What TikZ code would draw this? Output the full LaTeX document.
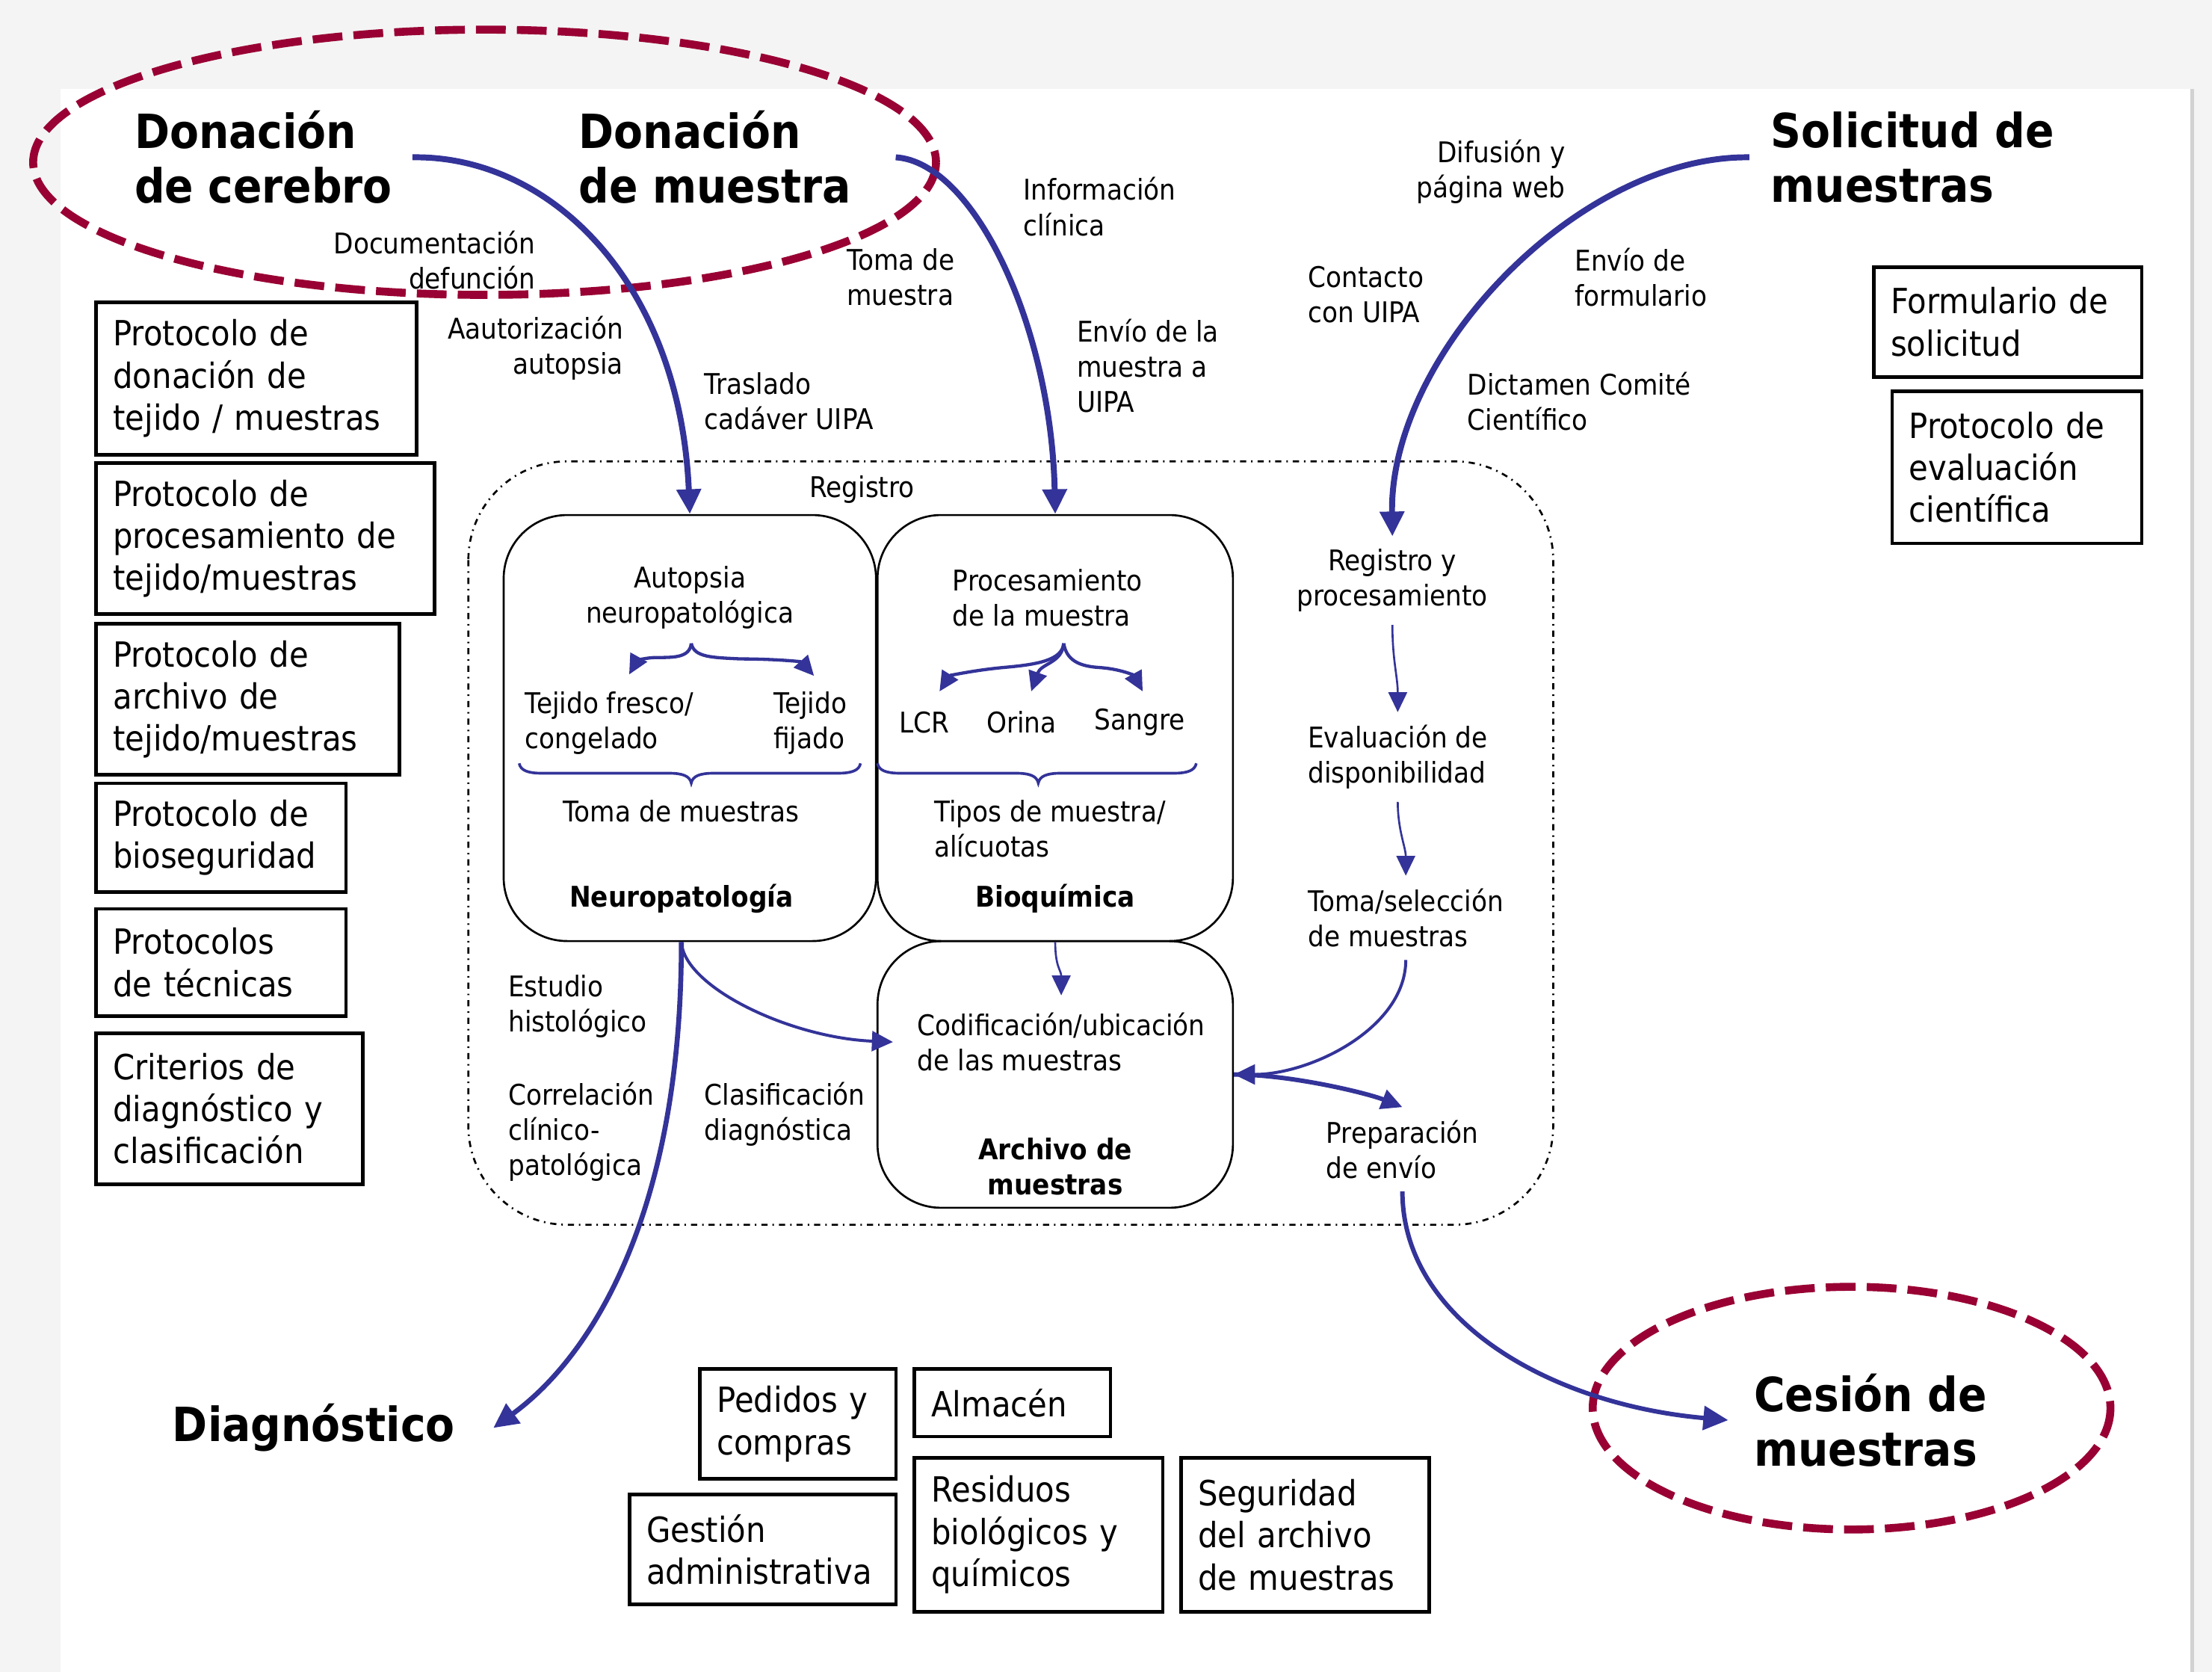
\documentclass[tikz,border=0pt]{standalone}
\usepackage{fontspec}
\setmainfont{DejaVu Sans}[FakeStretch=0.9]
\usetikzlibrary{arrows.meta,backgrounds}

\definecolor{flowblue}{HTML}{333399}
\definecolor{ringred}{HTML}{990033}

\tikzset{
  lbl/.style={inner sep=0pt, align=left, font=\fontsize{11.5}{14.2}\selectfont},
  rlbl/.style={inner sep=0pt, align=right, font=\fontsize{11.5}{14.2}\selectfont},
  clbl/.style={inner sep=0pt, align=center, font=\fontsize{11.5}{14.2}\selectfont},
  boldlbl/.style={inner sep=0pt, align=center, font=\fontsize{11.5}{14.2}\selectfont\bfseries},
  bigtitle/.style={inner sep=0pt, align=left, font=\fontsize{19}{22.1}\selectfont\bfseries},
  stepnode/.style={lbl, inner sep=5pt},
  protbox/.style={draw, line width=1.4pt, anchor=north west, align=left, inner xsep=0.24cm, inner ysep=0pt, font=\fontsize{14}{17}\selectfont},
  unitbox/.style={draw, line width=0.8pt, rounded corners=0.9cm},
  bigflow/.style={flowblue, line width=2.4pt, -{Triangle[length=10pt,width=9.5pt]}},
  flow/.style={flowblue, line width=1.2pt, -{Triangle[length=8.5pt,width=8pt]}},
  thinflow/.style={flowblue, line width=0.8pt, -{Triangle[length=8pt,width=7.5pt]}},
  brarrow/.style={flowblue, line width=1.3pt, -{Triangle[length=8pt,width=7.5pt]}},
  bracket/.style={flowblue, line width=1.1pt},
  ring/.style={ringred, line width=3.2pt, dash pattern=on 12pt off 4.5pt},
}

\begin{document}
\begin{tikzpicture}[x=0.02cm, y=-0.02cm]
\useasboundingbox (0,0) rectangle (1568,1185);
\fill[gray!9] (0,0) rectangle (1568,1185);
\fill[white] (43,63) rectangle (1553,1185);
\draw[gray!35, line width=1.5pt] (1554,63) -- (1554,1185);

% donation and delivery rings
\draw[ring] (343.5,115) ellipse [x radius=320, y radius=94];
\draw[ring] (1312.5,998) ellipse [x radius=183.5, y radius=86];

% unit frame and working units
\draw[line width=0.8pt, dash pattern=on 2.5pt off 2pt on 0.6pt off 2pt, rounded corners=1.4cm] (332,327) rectangle (1101,868);
\node[unitbox, minimum width=5.28cm, minimum height=6.04cm] (neuro) at (489,516) {};
\node[unitbox, minimum width=5.04cm, minimum height=6.04cm] (bioq) at (748,516) {};
\node[unitbox, minimum width=5.04cm, minimum height=3.78cm] (archivo) at (748,761.5) {};

% titles
\node[bigtitle, anchor=west] (cerebro) at (95,111.5) {Donación\\de cerebro};
\node[bigtitle, anchor=west] (donmuestra) at (410,111.5) {Donación\\de muestra};
\node[bigtitle, anchor=west] (solicitud) at (1255,111.5) {Solicitud de\\muestras};
\node[bigtitle, anchor=west] (diag) at (122,1012) {Diagnóstico};
\node[bigtitle, anchor=west] (cesion) at (1243,1006.5) {Cesión de\\muestras};

% steps along the incoming paths
\node[rlbl, anchor=east] (docdef) at (380,184.5) {Documentación\\defunción};
\node[rlbl, anchor=east] (autoriz) at (442,246.5) {Aautorización\\autopsia};
\node[lbl, anchor=west] (traslado) at (499,284.5) {Traslado\\cadáver UIPA};
\node[lbl, anchor=west] (tomamuestra) at (600,196.5) {Toma de\\muestra};
\node[lbl, anchor=west] (infoclin) at (725,146.5) {Información\\clínica};
\node[lbl, anchor=west] (envio) at (763,259.5) {Envío de la\\muestra a\\UIPA};
\node[rlbl, anchor=east] (difusion) at (1110,121.5) {Difusión y\\página web};
\node[lbl, anchor=west] (contacto) at (927,209) {Contacto\\con UIPA};
\node[lbl, anchor=west] (envioform) at (1116,196.5) {Envío de\\formulario};
\node[lbl, anchor=west] (dictamen) at (1040,284.5) {Dictamen Comité\\Científico};

% inside the units
\node[clbl] (registro) at (611,347) {Registro};
\node[clbl] (autopsia) at (489,423.5) {Autopsia\\neuropatológica};
\node[lbl, anchor=west] (fresco) at (372,512.5) {Tejido fresco/\\congelado};
\node[lbl, anchor=west] (fijado) at (548,512.5) {Tejido\\fijado};
\node[clbl] (tomamuestras) at (483,575) {Toma de muestras};
\node[boldlbl] (neurolbl) at (483,637) {Neuropatología};

\node[lbl, anchor=west] (procmuestra) at (675,423.5) {Procesamiento\\de la muestra};
\node[clbl] (lcr) at (655,512) {LCR};
\node[clbl] (orina) at (724,512) {Orina};
\node[clbl] (sangre) at (808,512) {Sangre};
\node[lbl, anchor=west] (tipos) at (662,587.5) {Tipos de muestra/\\alícuotas};
\node[boldlbl] (bioqlbl) at (748,637) {Bioquímica};

\node[lbl, anchor=west] (codif) at (650,738.5) {Codificación/ubicación\\de las muestras};
\node[boldlbl] (archlbl) at (748,827) {Archivo de\\muestras};

\node[stepnode, align=center] (regproc) at (987,411.5) {Registro y\\procesamiento};
\node[stepnode, anchor=west] (evaldisp) at (918,536.5) {Evaluación de\\disponibilidad};
\node[stepnode, anchor=west] (tomasel) at (918,650.5) {Toma/selección\\de muestras};
\node[stepnode, anchor=west] (prepenvio) at (931,814.5) {Preparación\\de envío};

\node[lbl, anchor=west] (estudio) at (360,713.5) {Estudio\\histológico};
\node[lbl, anchor=west] (correl) at (360,802) {Correlación\\clínico-\\patológica};
\node[lbl, anchor=west] (clasif) at (499,789.5) {Clasificación\\diagnóstica};

% protocols and support
\node[protbox, text width=4.06cm, minimum height=2.16cm] (protdon) at (67,213) {Protocolo de\\donación de\\tejido / muestras};
\node[protbox, text width=4.32cm, minimum height=2.14cm] (protproc) at (67,327) {Protocolo de\\procesamiento de\\tejido/muestras};
\node[protbox, text width=3.82cm, minimum height=2.14cm] (protarch) at (67,441) {Protocolo de\\archivo de\\tejido/muestras};
\node[protbox, text width=3.06cm, minimum height=1.54cm] (protbio) at (67,554) {Protocolo de\\bioseguridad};
\node[protbox, text width=3.06cm, minimum height=1.52cm] (prottec) at (67,643) {Protocolos\\de técnicas};
\node[protbox, text width=3.30cm, minimum height=2.14cm] (criterios) at (67,731) {Criterios de\\diagnóstico y\\clasificación};
\node[protbox, text width=3.32cm, minimum height=1.56cm] (formsol) at (1327,188) {Formulario de\\solicitud};
\node[protbox, text width=3.06cm, minimum height=2.16cm] (proteval) at (1340,276) {Protocolo de\\evaluación\\científica};
\node[protbox, text width=2.30cm, minimum height=1.56cm] (pedidos) at (495,969) {Pedidos y\\compras};
\node[protbox, text width=2.30cm, minimum height=0.96cm] (almacen) at (647,969) {Almacén};
\node[protbox, text width=3.30cm, minimum height=1.56cm] (gestion) at (445,1058) {Gestión\\administrativa};
\node[protbox, text width=3.04cm, minimum height=2.18cm] (residuos) at (647,1032) {Residuos\\biológicos y\\químicos};
\node[protbox, text width=3.04cm, minimum height=2.18cm] (seguridad) at (836,1032) {Seguridad\\del archivo\\de muestras};

% branching braces
\coordinate (autotip) at (490,456);
\coordinate (proctip) at (754,456);
\draw[brarrow] (autotip) .. controls (489,466) and (478,466) .. (466,466) .. controls (456,466) and (451,469) .. (446,478);
\draw[brarrow] (autotip) .. controls (492,466) and (505,466) .. (525,467) .. controls (550,467) and (568,469) .. (577,479);
\draw[brarrow] (proctip) .. controls (753,468) and (735,471) .. (712,473) .. controls (690,475) and (673,479) .. (666,490);
\draw[brarrow] (proctip) .. controls (753,470) and (738,470) .. (731,490);
\draw[brarrow] (proctip) .. controls (756,468) and (765,472) .. (778,473) .. controls (795,474) and (804,479) .. (810,490);
\draw[bracket] (368,541) .. controls (369,546) and (374,548) .. (384,548) -- (474,548) .. controls (484,548) and (489,550) .. (490,555) .. controls (491,550) and (496,548) .. (506,548) -- (594,548) .. controls (604,548) and (609,546) .. (610,541);
\draw[bracket] (622,541) .. controls (623,546) and (628,548) .. (638,548) -- (720,548) .. controls (730,548) and (735,550) .. (736,555) .. controls (737,550) and (742,548) .. (752,548) -- (832,548) .. controls (842,548) and (847,546) .. (848,541);

% flows
\draw[bigflow] ([xshift=0.28cm]cerebro.east) .. controls (390,110) and (482,200) .. (neuro.north);
\draw[bigflow] ([xshift=0.63cm]donmuestra.east) .. controls (690,115) and (745,230) .. (bioq.north);
\draw[bigflow] ([xshift=-0.3cm]solicitud.west) .. controls (1120,110) and (985,250) .. (regproc.north);
\draw[thinflow] (regproc.south) .. controls +(0,25) and +(0,-25) .. (evaldisp.north);
\draw[thinflow] (evaldisp.south) .. controls +(0,20) and +(0,-20) .. (tomasel.north);
\draw[flow] (tomasel.south) .. controls +(0,48) and +(55,0) .. (archivo.east);
\draw[flow, line width=1.8pt] (archivo.east) .. controls +(40,0) and +(-25,-10) .. (prepenvio.north);
\draw[bigflow, line width=1.8pt] (prepenvio.south) .. controls +(0,92) and +(-125,-11) .. ([xshift=-0.36cm]cesion.west);
\draw[bigflow, line width=2pt] ([xshift=-0.12cm]neuro.south) .. controls +(0,192) and +(70,-51) .. ([xshift=0.54cm]diag.east);
\draw[flow] ([xshift=-0.12cm]neuro.south) .. controls +(2,32) and +(-73,-3) .. ([xshift=-0.34cm]codif.west);
\draw[thinflow] (bioq.south) .. controls +(0,18) and +(0,-18) .. ([yshift=0.24cm]codif.north);
\end{tikzpicture}
\end{document}
